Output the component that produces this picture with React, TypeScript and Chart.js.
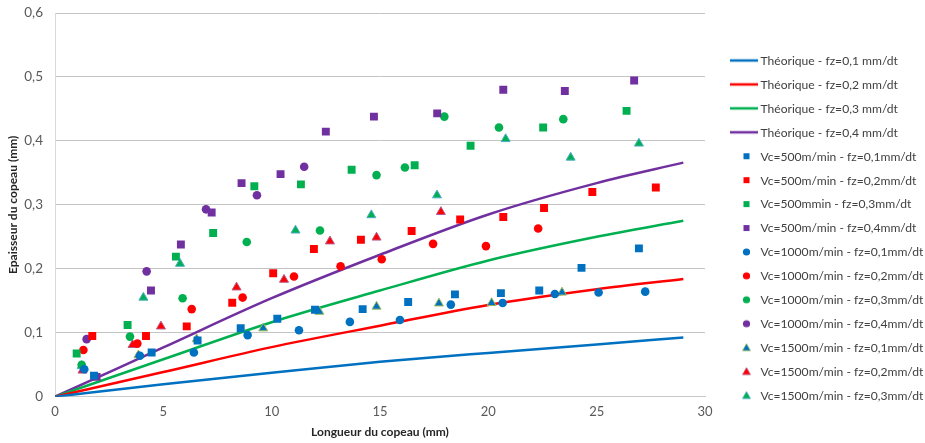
import React, { useEffect, useRef } from "react";
import { Chart, registerables } from "chart.js";

Chart.register(...registerables);

// Theoretical curves
const theoX = [0, 5, 10, 15, 20, 25, 29];
const theoFz01 = [0, 0.0193, 0.0375, 0.0545, 0.0685, 0.0815, 0.0927];
const theoFz02 = [0, 0.0385, 0.0775, 0.111, 0.1435, 0.168, 0.184];
const theoFz03 = [0, 0.0585, 0.1165, 0.166, 0.213, 0.25, 0.275];
const theoFz04 = [0, 0.077, 0.154, 0.222, 0.285, 0.334, 0.366];

// Measurements [longueur, épaisseur]
const vc500fz01: [number, number][] = [[1.8, 0.033], [4.46, 0.069], [6.58, 0.088], [8.57, 0.107], [10.26, 0.122], [12.0, 0.136], [14.2, 0.137], [16.3, 0.148], [18.46, 0.16], [20.58, 0.162], [22.35, 0.166], [24.3, 0.2015], [26.95, 0.232]];
const vc500fz02: [number, number][] = [[1.72, 0.095], [4.2, 0.095], [6.08, 0.11], [8.18, 0.147], [10.07, 0.193], [11.95, 0.231], [14.12, 0.2455], [16.46, 0.259], [18.7, 0.277], [20.69, 0.281], [22.57, 0.295], [24.8, 0.32], [27.73, 0.327]];
const vc500fz03: [number, number][] = [[1.0, 0.0675], [3.35, 0.112], [5.58, 0.219], [7.3, 0.256], [9.2, 0.329], [11.35, 0.332], [13.69, 0.355], [16.6, 0.362], [19.18, 0.3925], [22.53, 0.421], [26.38, 0.447]];
const vc500fz04: [number, number][] = [[1.92, 0.031], [4.43, 0.166], [5.81, 0.238], [7.23, 0.288], [8.61, 0.334], [10.41, 0.348], [12.5, 0.4145], [14.72, 0.438], [17.64, 0.443], [20.69, 0.48], [23.53, 0.478], [26.73, 0.4945]];
const vc1000fz01: [number, number][] = [[1.35, 0.043], [3.92, 0.064], [6.41, 0.069], [8.89, 0.0963], [11.26, 0.104], [13.61, 0.117], [15.92, 0.12], [18.27, 0.144], [20.66, 0.1466], [23.07, 0.1607], [25.09, 0.163], [27.24, 0.1643]];
const vc1000fz02: [number, number][] = [[1.31, 0.073], [3.8, 0.083], [6.31, 0.137], [8.66, 0.155], [11.03, 0.188], [13.18, 0.204], [15.08, 0.215], [17.45, 0.239], [19.89, 0.2355], [22.3, 0.263]];
const vc1000fz03: [number, number][] = [[1.23, 0.05], [3.46, 0.094], [5.89, 0.154], [8.85, 0.242], [12.23, 0.26], [14.84, 0.3465], [16.15, 0.3585], [17.97, 0.438], [20.49, 0.421], [23.46, 0.434]];
const vc1000fz04: [number, number][] = [[1.46, 0.09], [4.23, 0.196], [6.97, 0.293], [9.32, 0.315], [11.5, 0.3595]];
const vc1500fz01: [number, number][] = [[3.85, 0.065], [6.54, 0.09], [9.61, 0.107], [12.2, 0.133], [14.84, 0.141], [17.72, 0.146], [20.15, 0.1466], [23.4, 0.163]];
const vc1500fz02: [number, number][] = [[1.27, 0.041], [3.58, 0.081], [4.89, 0.11], [8.38, 0.171], [10.57, 0.183], [12.69, 0.243], [14.84, 0.249], [17.81, 0.289]];
const vc1500fz03: [number, number][] = [[1.23, 0.048], [4.08, 0.155], [5.77, 0.208], [11.1, 0.26], [14.6, 0.284], [17.63, 0.315], [20.8, 0.403], [23.8, 0.374], [26.95, 0.396]];

const labelsTheo = [
  "Théorique - fz=0,1 mm/dt",
  "Théorique - fz=0,2 mm/dt",
  "Théorique - fz=0,3 mm/dt",
  "Théorique - fz=0,4 mm/dt",
];
const labelsMeas = [
  "Vc=500m/min - fz=0,1mm/dt",
  "Vc=500m/min - fz=0,2mm/dt",
  "Vc=500mmin - fz=0,3mm/dt",
  "Vc=500m/min - fz=0,4mm/dt",
  "Vc=1000m/min - fz=0,1mm/dt",
  "Vc=1000m/min - fz=0,2mm/dt",
  "Vc=1000m/min - fz=0,3mm/dt",
  "Vc=1000m/min - fz=0,4mm/dt",
  "Vc=1500m/min - fz=0,1mm/dt",
  "Vc=1500m/min - fz=0,2mm/dt",
  "Vc=1500m/min - fz=0,3mm/dt",
];

const BLUE = "#0070C0";
const RED = "#FF0000";
const GREEN = "#00B050";
const PURPLE = "#7030A0";
const FONT = "Lato, 'Liberation Sans', sans-serif";

function makeMarker(shape: string, fill: string, border?: string) {
  const c = document.createElement("canvas");
  c.width = 28;
  c.height = 14;
  const ctx = c.getContext("2d")!;
  const cx = 16.5;
  const cy = 7;
  if (shape === "line") {
    ctx.strokeStyle = fill;
    ctx.lineWidth = 2.5;
    ctx.beginPath();
    ctx.moveTo(0, cy);
    ctx.lineTo(28, cy);
    ctx.stroke();
  } else if (shape === "rect") {
    ctx.fillStyle = fill;
    ctx.fillRect(cx - 3, cy - 3, 6, 6);
  } else if (shape === "circle") {
    ctx.fillStyle = fill;
    ctx.beginPath();
    ctx.arc(cx, cy, 3.6, 0, Math.PI * 2);
    ctx.fill();
  } else {
    ctx.fillStyle = fill;
    ctx.beginPath();
    ctx.moveTo(cx, cy - 4);
    ctx.lineTo(cx + 4, cy + 3);
    ctx.lineTo(cx - 4, cy + 3);
    ctx.closePath();
    ctx.fill();
    if (border) {
      ctx.strokeStyle = border;
      ctx.lineWidth = 0.8;
      ctx.stroke();
    }
  }
  return c;
}

export default function App() {
  const ref = useRef<HTMLCanvasElement | null>(null);

  useEffect(() => {
    document.body.style.margin = "0";
    const canvas = ref.current;
    if (!canvas) return;

    const lineDs = (label: string, ys: number[], color: string) => ({
      type: "line" as const,
      label,
      data: theoX.map((x, i) => ({ x, y: ys[i] })),
      borderColor: color,
      backgroundColor: color,
      borderWidth: 2.5,
      pointRadius: 0,
      showLine: true,
      fill: false,
      cubicInterpolationMode: "monotone" as const,
      order: 20,
      _shape: "line",
    });
    const ptDs = (label: string, pts: [number, number][], color: string, shape: string, border?: string) => ({
      type: "scatter" as const,
      label,
      data: pts.map(([x, y]) => ({ x, y })),
      backgroundColor: color,
      borderColor: border || color,
      borderWidth: border ? 1 : 0,
      pointStyle: shape === "rect" ? "rect" : shape === "circle" ? "circle" : "triangle",
      pointRadius: shape === "rect" ? 5.6 : shape === "circle" ? 4.3 : 5.2,
      order: 1,
      _shape: shape,
      _border: border,
    });

    const datasets: any[] = [
      lineDs(labelsTheo[0], theoFz01, BLUE),
      lineDs(labelsTheo[1], theoFz02, RED),
      lineDs(labelsTheo[2], theoFz03, GREEN),
      lineDs(labelsTheo[3], theoFz04, PURPLE),
      ptDs(labelsMeas[0], vc500fz01, BLUE, "rect"),
      ptDs(labelsMeas[1], vc500fz02, RED, "rect"),
      ptDs(labelsMeas[2], vc500fz03, GREEN, "rect"),
      ptDs(labelsMeas[3], vc500fz04, PURPLE, "rect"),
      ptDs(labelsMeas[4], vc1000fz01, BLUE, "circle"),
      ptDs(labelsMeas[5], vc1000fz02, RED, "circle"),
      ptDs(labelsMeas[6], vc1000fz03, GREEN, "circle"),
      ptDs(labelsMeas[7], vc1000fz04, PURPLE, "circle"),
      ptDs(labelsMeas[8], vc1500fz01, BLUE, "triangle", "#9BBB59"),
      ptDs(labelsMeas[9], vc1500fz02, RED, "triangle", "#B65A8C"),
      ptDs(labelsMeas[10], vc1500fz03, GREEN, "triangle", "#4BACC6"),
    ];

    const markers = datasets.map((d) => makeMarker(d._shape, d.backgroundColor, d._border));

    const sideLegend = {
      id: "sideLegend",
      afterDraw(ch: any) {
        const ctx = ch.ctx;
        const x0 = ch.chartArea.right + 25;
        const rowH = 23.93;
        const y0 = 60.5;
        ctx.save();
        ctx.font = `12.1px ${FONT}`;
        ctx.fillStyle = "#404040";
        ctx.textBaseline = "middle";
        ctx.textAlign = "left";
        ch.data.datasets.forEach((d: any, i: number) => {
          const y = y0 + i * rowH;
          ctx.drawImage(markers[i], x0, y - 7);
          ctx.fillText(d.label, x0 + 30.5, y + 0.5);
        });
        ctx.restore();
      },
    };

    const chart = new Chart(canvas, {
      type: "scatter",
      data: { datasets },
      plugins: [sideLegend],
      options: {
        animation: false,
        responsive: false,
        maintainAspectRatio: false,
        layout: { padding: { top: 13, left: 6, right: 220, bottom: 4.5 } },
        plugins: {
          tooltip: { enabled: false },
          legend: { display: false },
        },
        scales: {
          x: {
            type: "linear",
            min: 0,
            max: 30,
            ticks: {
              stepSize: 5,
              color: "#595959",
              font: { family: FONT, size: 13, lineHeight: 1.0 },
              padding: 8.4,
            },
            grid: { display: false, drawTicks: false },
            border: { display: true, color: "#c8c8c8", width: 1 },
            title: {
              display: true,
              text: "Longueur du copeau (mm)",
              color: "#262626",
              font: { family: FONT, size: 12, weight: "bold", lineHeight: 1.0 },
              padding: { top: 0, bottom: 0 },
            },
          },
          y: {
            min: 0,
            max: 0.6,
            afterFit: (s: any) => {
              s.width = 49;
              s.paddingTop = 0;
            },
            ticks: {
              stepSize: 0.1,
              color: "#595959",
              font: { family: FONT, size: 13.5 },
              padding: 12,
              callback: (v: any) => (Number(v) === 0 ? "0" : Number(v).toFixed(1).replace(".", ",")),
            },
            grid: { color: "#c4c4c4", drawTicks: false, lineWidth: 1 },
            border: { display: true, color: "#d9d9d9", width: 1 },
            title: {
              display: true,
              text: "Epaisseur du copeau (mm)",
              color: "#262626",
              font: { family: FONT, size: 12, weight: "bold" },
              padding: { top: 0, bottom: 0 },
            },
          },
        },
      },
    });

    return () => chart.destroy();
  }, []);

  return (
    <div style={{ width: 925, height: 443, background: "#fff" }}>
      <canvas ref={ref} width={925} height={443} style={{ display: "block" }} />
    </div>
  );
}
